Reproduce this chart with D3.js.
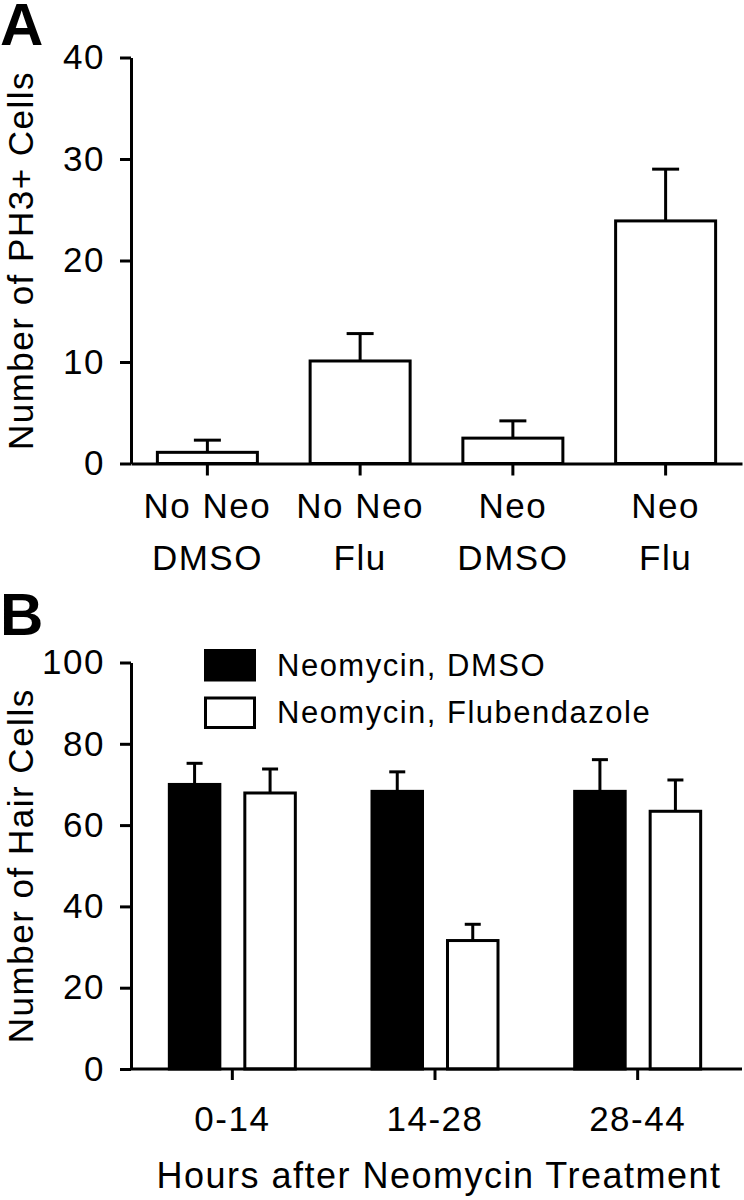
<!DOCTYPE html>
<html>
<head>
  <meta charset="utf-8">
  <style>
    html, body { margin: 0; background: #fff; overflow: hidden; }
    svg { display: block; }
    text { font-family: "Liberation Sans", Arial, Helvetica, sans-serif; fill: #000; letter-spacing: 1.5px; }
    .axis path, .axis line { stroke: #000; stroke-width: 3px; }
    .axis text { font-size: 35px; }
    .panel { font-weight: bold; font-size: 60px; letter-spacing: 0; }
  </style>
  <script src="https://d3js.org/d3.v7.min.js"></script>
</head>
<body>
  <svg id="svg" width="744" height="1200"></svg>
  <script>
    // panel A
    var groupsA = [["No Neo", "DMSO"], ["No Neo", "Flu"], ["Neo", "DMSO"], ["Neo", "Flu"]];
    var meanA = [1.1, 10.1, 2.5, 23.9];
    var semA = [1.2, 2.7, 1.7, 5.1];
    var ticksA = [0, 10, 20, 30, 40];

    // panel B
    var hoursB = ["0-14", "14-28", "28-44"];
    var seriesB = ["Neomycin, DMSO", "Neomycin, Flubendazole"];
    var dmsoB = [70.0, 68.3, 68.3];
    var dmsoSemB = [5.2, 4.8, 7.8];
    var fluB = [67.9, 31.6, 63.4];
    var fluSemB = [5.9, 4.0, 7.7];
    var ticksB = [0, 20, 40, 60, 80, 100];

    var svg = d3.select("#svg");

    // ---------- A ----------
    var xA = d3.scaleBand().domain(d3.range(groupsA.length)).range([131, 742])
      .paddingInner(0.3453).paddingOuter(0.1727);
    var yA = d3.scaleLinear().domain([0, 40]).range([463.5, 57.5]);

    svg.append("text").attr("class", "panel").attr("x", 0).attr("y", 45).text("A");

    var gA = svg.append("g");
    gA.selectAll("rect").data(meanA).enter().append("rect")
      .attr("x", function(d, i){ return xA(i); })
      .attr("width", xA.bandwidth())
      .attr("y", function(d){ return yA(d); })
      .attr("height", function(d){ return yA(0) - yA(d); })
      .attr("fill", "#fff").attr("stroke", "#000").attr("stroke-width", 3);

    var errA = gA.selectAll(".err").data(meanA).enter().append("g").attr("class", "err")
      .attr("stroke", "#000").attr("stroke-width", 3);
    errA.append("line")
      .attr("x1", function(d, i){ return xA(i) + xA.bandwidth() / 2; })
      .attr("x2", function(d, i){ return xA(i) + xA.bandwidth() / 2; })
      .attr("y1", function(d){ return yA(d); })
      .attr("y2", function(d, i){ return yA(d + semA[i]); });
    errA.append("line")
      .attr("x1", function(d, i){ return xA(i) + xA.bandwidth() / 2 - 13.5; })
      .attr("x2", function(d, i){ return xA(i) + xA.bandwidth() / 2 + 13.5; })
      .attr("y1", function(d, i){ return yA(d + semA[i]); })
      .attr("y2", function(d, i){ return yA(d + semA[i]); });

    svg.append("g").attr("class", "axis").attr("transform", "translate(131,0)")
      .call(d3.axisLeft(yA).tickValues(ticksA).tickSize(11).tickPadding(15).tickSizeOuter(0))
      .call(function(g){ g.selectAll("text").attr("font-family", null).attr("font-size", null); });

    var xAxA = svg.append("g").attr("class", "axis").attr("transform", "translate(0," + yA(0) + ")")
      .call(d3.axisBottom(xA).tickSize(12).tickSizeOuter(0).tickFormat(""));
    xAxA.selectAll(".tick text").remove();

    var labA = svg.append("g");
    labA.selectAll("text").data(groupsA).enter().append("text")
      .attr("text-anchor", "middle")
      .attr("font-size", 35)
      .each(function(d, i){
        var t = d3.select(this);
        var cx = xA(i) + xA.bandwidth() / 2;
        t.append("tspan").attr("x", cx).attr("y", 518).text(d[0]);
        t.append("tspan").attr("x", cx).attr("y", 570).text(d[1]);
      });

    svg.append("text")
      .attr("transform", "translate(33," + (yA(0) + yA(40)) / 2 + ") rotate(-90)")
      .attr("text-anchor", "middle").attr("font-size", 35)
      .text("Number of PH3+ Cells");

    // ---------- B ----------
    var x0B = d3.scaleBand().domain(hoursB).range([131, 739]);
    var x1B = d3.scaleBand().domain(seriesB).range([-63, 63]).paddingInner(0.331);
    var yB = d3.scaleLinear().domain([0, 100]).range([1069, 662.5]);

    svg.append("text").attr("class", "panel").attr("x", 0).attr("y", 635).text("B");

    var rowsB = [];
    hoursB.forEach(function(h, i){
      rowsB.push({h: h, s: seriesB[0], v: dmsoB[i], e: dmsoSemB[i], fill: "#000"});
      rowsB.push({h: h, s: seriesB[1], v: fluB[i], e: fluSemB[i], fill: "#fff"});
    });
    function bx(d){ return x0B(d.h) + x0B.bandwidth() / 2 + x1B(d.s); }

    var gB = svg.append("g");
    gB.selectAll("rect").data(rowsB).enter().append("rect")
      .attr("x", bx)
      .attr("width", x1B.bandwidth())
      .attr("y", function(d){ return yB(d.v); })
      .attr("height", function(d){ return yB(0) - yB(d.v); })
      .attr("fill", function(d){ return d.fill; })
      .attr("stroke", "#000").attr("stroke-width", 3);

    var errB = gB.selectAll(".err").data(rowsB).enter().append("g").attr("class", "err")
      .attr("stroke", "#000").attr("stroke-width", 3);
    errB.append("line")
      .attr("x1", function(d){ return bx(d) + x1B.bandwidth() / 2; })
      .attr("x2", function(d){ return bx(d) + x1B.bandwidth() / 2; })
      .attr("y1", function(d){ return yB(d.v); })
      .attr("y2", function(d){ return yB(d.v + d.e); });
    errB.append("line")
      .attr("x1", function(d){ return bx(d) + x1B.bandwidth() / 2 - 8; })
      .attr("x2", function(d){ return bx(d) + x1B.bandwidth() / 2 + 8; })
      .attr("y1", function(d){ return yB(d.v + d.e); })
      .attr("y2", function(d){ return yB(d.v + d.e); });

    svg.append("g").attr("class", "axis").attr("transform", "translate(131,0)")
      .call(d3.axisLeft(yB).tickValues(ticksB).tickSize(11).tickPadding(15).tickSizeOuter(0))
      .call(function(g){ g.selectAll("text").attr("font-family", null).attr("font-size", null); });

    var xAxB = svg.append("g").attr("class", "axis").attr("transform", "translate(0," + yB(0) + ")")
      .call(d3.axisBottom(x0B).tickSize(11).tickSizeOuter(0).tickPadding(26))
      .call(function(g){ g.selectAll("text").attr("font-family", null).attr("font-size", null); });
    xAxB.select(".domain").remove();
    xAxB.append("line").attr("x1", 131).attr("x2", 742);

    svg.append("text")
      .attr("transform", "translate(33," + (yB(0) + yB(100)) / 2 + ") rotate(-90)")
      .attr("text-anchor", "middle").attr("font-size", 35)
      .text("Number of Hair Cells");

    svg.append("text")
      .attr("x", 439).attr("y", 1188)
      .attr("text-anchor", "middle").attr("font-size", 36)
      .text("Hours after Neomycin Treatment");

    // legend
    var leg = svg.append("g").attr("transform", "translate(205.5,650.5)");
    var li = leg.selectAll("g").data(seriesB).enter().append("g")
      .attr("transform", function(d, i){ return "translate(0," + i * 47.5 + ")"; });
    li.append("rect").attr("width", 49).attr("height", 29.5)
      .attr("fill", function(d, i){ return i === 0 ? "#000" : "#fff"; })
      .attr("stroke", "#000").attr("stroke-width", 3);
    li.append("text").attr("x", 71.5).attr("y", 25).attr("font-size", 31).text(function(d){ return d; });
  </script>
</body>
</html>
